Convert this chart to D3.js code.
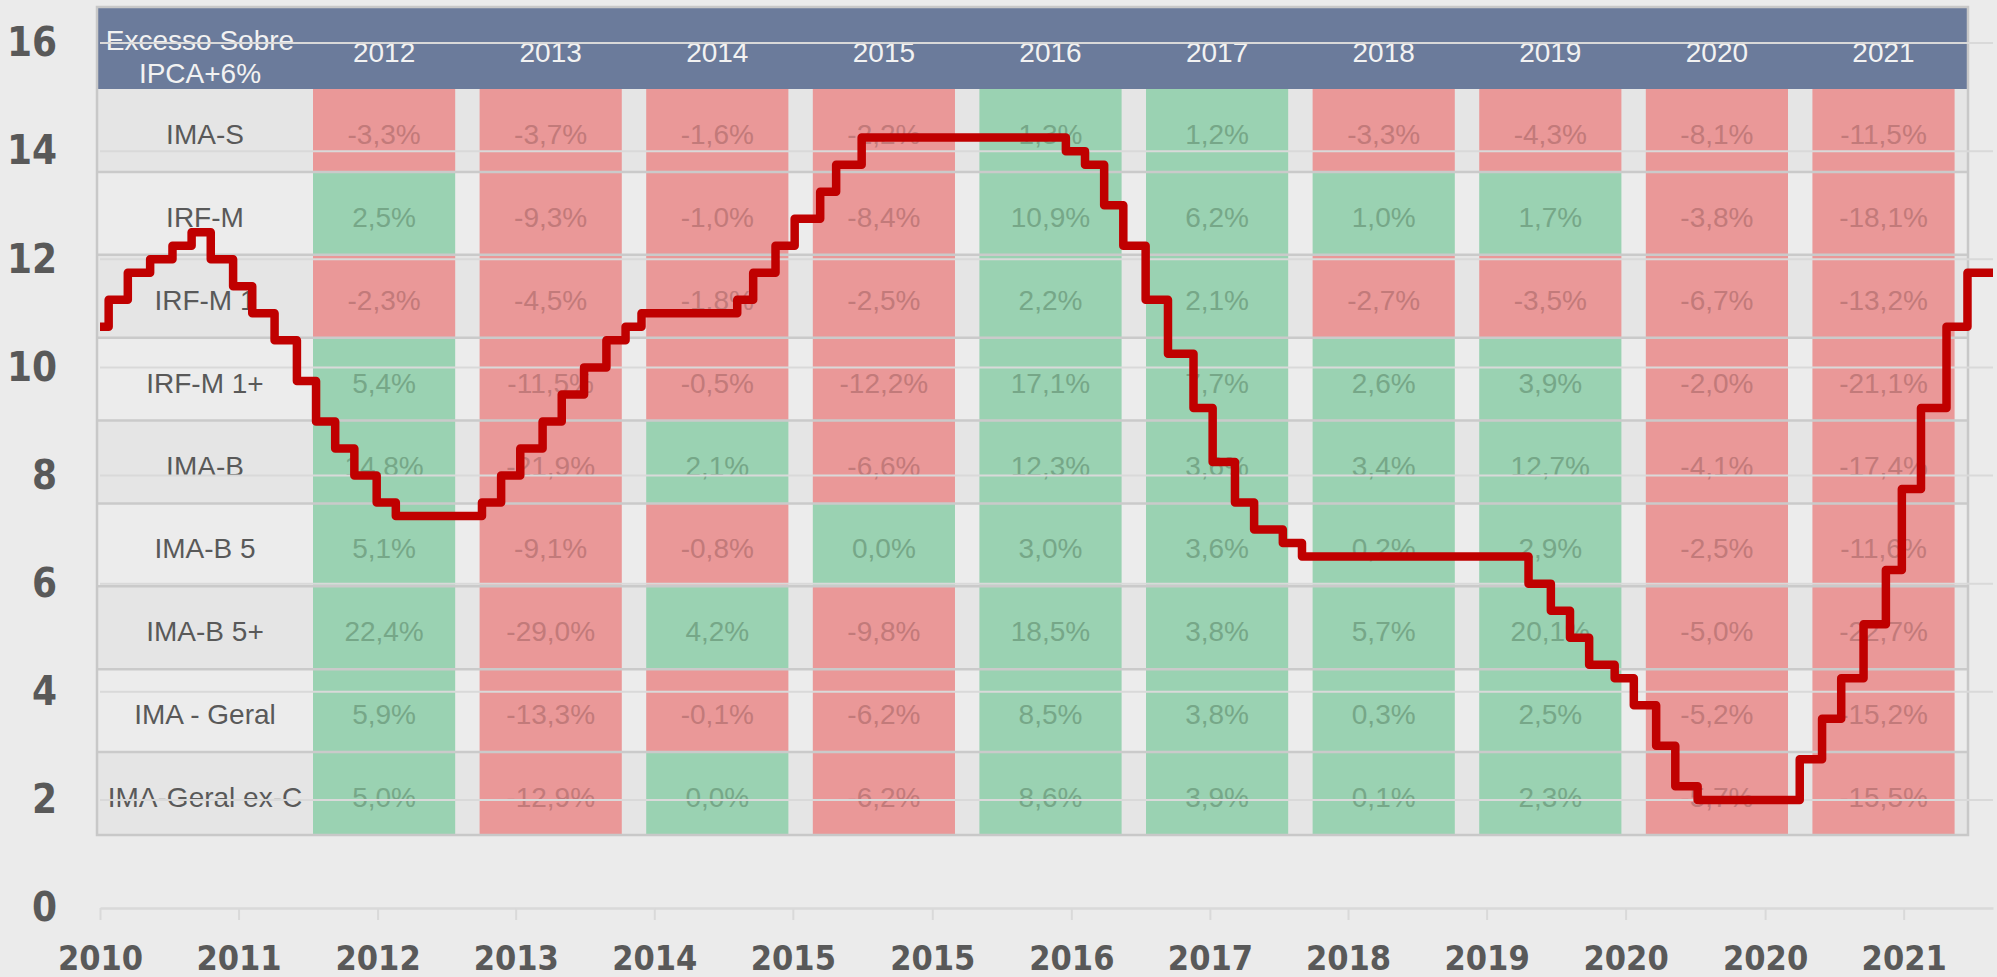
<!DOCTYPE html>
<html>
<head>
<meta charset="utf-8">
<script src="https://cdn.jsdelivr.net/npm/d3@7"></script>
<style>
  body { margin: 0; background: #ebebeb; }
  svg { display: block; }
</style>
</head>
<body>
<div id="chart"></div>
<script>
// Tabela: excesso sobre IPCA+6% por índice e ano
const anos = ["2012", "2013", "2014", "2015", "2016", "2017", "2018", "2019", "2020", "2021"];
const indices = ["IMA-S", "IRF-M", "IRF-M 1", "IRF-M 1+", "IMA-B", "IMA-B 5", "IMA-B 5+", "IMA - Geral", "IMA-Geral ex-C"];
const excesso = [
  [-3.3, -3.7, -1.6, -2.2, 1.3, 1.2, -3.3, -4.3, -8.1, -11.5],
  [2.5, -9.3, -1.0, -8.4, 10.9, 6.2, 1.0, 1.7, -3.8, -18.1],
  [-2.3, -4.5, -1.8, -2.5, 2.2, 2.1, -2.7, -3.5, -6.7, -13.2],
  [5.4, -11.5, -0.5, -12.2, 17.1, 7.7, 2.6, 3.9, -2.0, -21.1],
  [14.8, -21.9, 2.1, -6.6, 12.3, 3.6, 3.4, 12.7, -4.1, -17.4],
  [5.1, -9.1, -0.8, 0.0, 3.0, 3.6, 0.2, 2.9, -2.5, -11.6],
  [22.4, -29.0, 4.2, -9.8, 18.5, 3.8, 5.7, 20.1, -5.0, -22.7],
  [5.9, -13.3, -0.1, -6.2, 8.5, 3.8, 0.3, 2.5, -5.2, -15.2],
  [5.0, -12.9, 0.0, -6.2, 8.6, 3.9, 0.1, 2.3, -5.7, -15.5]
];
const cabecalho = ["Excesso Sobre", "IPCA+6%"];

// Selic meta (% a.a.) nas reuniões do Copom
const datasCopom = [
  "2010-12-31", "2011-01-19", "2011-03-02", "2011-04-20", "2011-06-08", "2011-07-20", "2011-08-31",
  "2011-10-19", "2011-11-30", "2012-01-18", "2012-03-07", "2012-04-18", "2012-05-30", "2012-07-11",
  "2012-08-29", "2012-10-10", "2013-04-17", "2013-05-29", "2013-07-10", "2013-08-28", "2013-10-09",
  "2013-11-27", "2014-01-15", "2014-02-26", "2014-04-02", "2014-10-29", "2014-12-03", "2015-01-21",
  "2015-03-04", "2015-04-29", "2015-06-03", "2015-07-29", "2016-10-19", "2016-11-30", "2017-01-11",
  "2017-02-22", "2017-04-12", "2017-05-31", "2017-07-26", "2017-09-06", "2017-10-25", "2017-12-06",
  "2018-02-07", "2018-03-21", "2019-07-31", "2019-09-18", "2019-10-30", "2019-12-11", "2020-02-05",
  "2020-03-18", "2020-05-06", "2020-06-17", "2020-08-05", "2021-03-17", "2021-05-05", "2021-06-16",
  "2021-08-04", "2021-09-22", "2021-10-27", "2021-12-08", "2022-02-02", "2022-03-20", "2022-05-15"
];
const selic = [
  10.75, 11.25, 11.75, 12.0, 12.25, 12.5, 12.0,
  11.5, 11.0, 10.5, 9.75, 9.0, 8.5, 8.0,
  7.5, 7.25, 7.5, 8.0, 8.5, 9.0, 9.5,
  10.0, 10.5, 10.75, 11.0, 11.25, 11.75, 12.25,
  12.75, 13.25, 13.75, 14.25, 14.0, 13.75, 13.0,
  12.25, 11.25, 10.25, 9.25, 8.25, 7.5, 7.0,
  6.75, 6.5, 6.0, 5.5, 5.0, 4.5, 4.25,
  3.75, 3.0, 2.25, 2.0, 2.75, 3.5, 4.25,
  5.25, 6.25, 7.75, 9.25, 10.75, 11.75, 11.75
];

// Eixos
const xTicks = ["2010-12-31", "2011-10-31", "2012-08-31", "2013-06-30", "2014-04-30", "2015-02-28", "2015-12-31",
  "2016-10-31", "2017-08-31", "2018-06-30", "2019-04-30", "2020-02-29", "2020-12-31", "2021-10-31"];
const yTicks = [0, 2, 4, 6, 8, 10, 12, 14, 16];
const xDominio = ["2010-12-31", "2022-05-15"];

const W = 1997, H = 977;
const parse = d3.timeParse("%Y-%m-%d");
const ptBR = d3.formatLocale({ decimal: ",", thousands: ".", grouping: [3], currency: ["R$", ""], minus: "-" });
const fmtPct = v => ptBR.format(".1f")(v) + "%";
const fonteEixo = "'Liberation Sans Narrow', 'DejaVu Sans Condensed', 'Roboto Condensed', 'Liberation Sans', sans-serif";
const fonteTabela = "'Liberation Sans', Arial, sans-serif";

const svg = d3.select("#chart").append("svg")
  .attr("width", W)
  .attr("height", H)
  .style("background", "#ebebeb");

const x = d3.scaleTime().domain(xDominio.map(parse)).range([100, 1993]);
const y = d3.scaleLinear().domain([0, 16]).range([908, 43]);

// ---------- tabela ----------
const tab = { left: 97, right: 1968, top: 7, headTop: 89, bottom: 835, labelRight: 313 };
const col = d3.scaleBand().domain(anos).range([313, 1954.6]).paddingInner(0.1466).paddingOuter(0);
const row = d3.scaleBand().domain(indices).range([tab.headTop, tab.bottom]);

const gTab = svg.append("g").attr("class", "tabela");

// fundo das linhas (alternado)
gTab.selectAll("rect.fundo")
  .data(indices)
  .join("rect")
  .attr("class", "fundo")
  .attr("x", tab.left)
  .attr("y", d => row(d))
  .attr("width", tab.right - tab.left)
  .attr("height", row.bandwidth())
  .attr("fill", (d, i) => i % 2 === 0 ? "#e5e5e5" : "#ececec");

// células coloridas
const celulas = [];
excesso.forEach((linha, i) => linha.forEach((v, j) => celulas.push({ indice: indices[i], ano: anos[j], v })));

gTab.selectAll("rect.celula")
  .data(celulas)
  .join("rect")
  .attr("class", "celula")
  .attr("x", d => col(d.ano))
  .attr("y", d => row(d.indice))
  .attr("width", col.bandwidth())
  .attr("height", row.bandwidth())
  .attr("fill", d => d.v >= 0 ? "#9ad2b2" : "#ea9898");

gTab.selectAll("text.valor")
  .data(celulas)
  .join("text")
  .attr("class", "valor")
  .attr("x", d => col(d.ano) + col.bandwidth() / 2)
  .attr("y", d => row(d.indice) + row.bandwidth() / 2 + 4)
  .attr("text-anchor", "middle")
  .attr("dominant-baseline", "central")
  .attr("font-family", fonteTabela)
  .attr("font-size", 28)
  .attr("fill", d => d.v >= 0 ? "#76a788" : "#c27a7a")
  .text(d => fmtPct(d.v));

// rótulos dos índices
gTab.selectAll("text.indice")
  .data(indices)
  .join("text")
  .attr("class", "indice")
  .attr("x", (tab.left + tab.labelRight) / 2)
  .attr("y", d => row(d) + row.bandwidth() / 2 + 4)
  .attr("text-anchor", "middle")
  .attr("dominant-baseline", "central")
  .attr("font-family", fonteTabela)
  .attr("font-size", 28)
  .attr("fill", "#595959")
  .text(d => d);

// bordas das linhas
gTab.selectAll("line.borda")
  .data(indices.slice(1))
  .join("line")
  .attr("class", "borda")
  .attr("x1", tab.left).attr("x2", tab.right)
  .attr("y1", d => row(d)).attr("y2", d => row(d))
  .attr("stroke", "#cacaca")
  .attr("stroke-width", 2.5);

// cabeçalho
gTab.append("rect")
  .attr("x", tab.left)
  .attr("y", tab.top)
  .attr("width", tab.right - tab.left)
  .attr("height", tab.headTop - tab.top)
  .attr("fill", "#6b7b9b");

gTab.selectAll("text.ano")
  .data(anos)
  .join("text")
  .attr("class", "ano")
  .attr("x", d => col(d) + col.bandwidth() / 2)
  .attr("y", 52)
  .attr("text-anchor", "middle")
  .attr("dominant-baseline", "central")
  .attr("font-family", fonteTabela)
  .attr("font-size", 28)
  .attr("fill", "#f2f2f2")
  .text(d => d);

gTab.selectAll("text.cab")
  .data(cabecalho)
  .join("text")
  .attr("class", "cab")
  .attr("x", 200)
  .attr("y", (d, i) => 40 + i * 33)
  .attr("text-anchor", "middle")
  .attr("dominant-baseline", "central")
  .attr("font-family", fonteTabela)
  .attr("font-size", 28)
  .attr("fill", "#f2f2f2")
  .text(d => d);

// contorno da tabela
gTab.append("rect")
  .attr("x", tab.left)
  .attr("y", tab.top)
  .attr("width", tab.right - tab.left)
  .attr("height", tab.bottom - tab.top)
  .attr("fill", "none")
  .attr("stroke", "#c8c8c8")
  .attr("stroke-width", 2.5);

// ---------- gráfico ----------
// grade horizontal
svg.append("g")
  .selectAll("line")
  .data(yTicks.filter(d => d > 0))
  .join("line")
  .attr("x1", 100).attr("x2", 1993)
  .attr("y1", d => y(d)).attr("y2", d => y(d))
  .attr("stroke", "#d9d9d9")
  .attr("stroke-width", 2);

// eixo x
const xAxis = d3.axisBottom(x)
  .tickValues(xTicks.map(parse))
  .tickFormat(d3.timeFormat("%Y"))
  .tickSizeInner(12)
  .tickSizeOuter(0)
  .tickPadding(26);

const gx = svg.append("g")
  .attr("transform", `translate(0,${y(0)})`)
  .call(xAxis);
gx.select(".domain").attr("stroke", "#d9d9d9").attr("stroke-width", 2.5);
gx.selectAll(".tick line").attr("stroke", "#d9d9d9").attr("stroke-width", 2);
gx.selectAll(".tick text")
  .attr("font-family", fonteEixo)
  .attr("font-weight", "bold")
  .attr("font-size", 34)
  .attr("fill", "#595959");

// eixo y
const yAxis = d3.axisLeft(y).tickValues(yTicks).tickSize(0).tickPadding(0);
const gy = svg.append("g")
  .attr("transform", "translate(57,0)")
  .call(yAxis);
gy.select(".domain").remove();
gy.selectAll(".tick text")
  .attr("font-family", fonteEixo)
  .attr("font-weight", "bold")
  .attr("font-size", 40)
  .attr("fill", "#595959");

// linha da Selic em degraus
const serie = datasCopom.map((d, i) => ({ data: parse(d), valor: selic[i] }));
const linha = d3.line()
  .x(d => x(d.data))
  .y(d => y(d.valor))
  .curve(d3.curveStepAfter);

svg.append("path")
  .datum(serie)
  .attr("d", linha)
  .attr("fill", "none")
  .attr("stroke", "#c00000")
  .attr("stroke-width", 8.5)
  .attr("stroke-linejoin", "round");
</script>
</body>
</html>
